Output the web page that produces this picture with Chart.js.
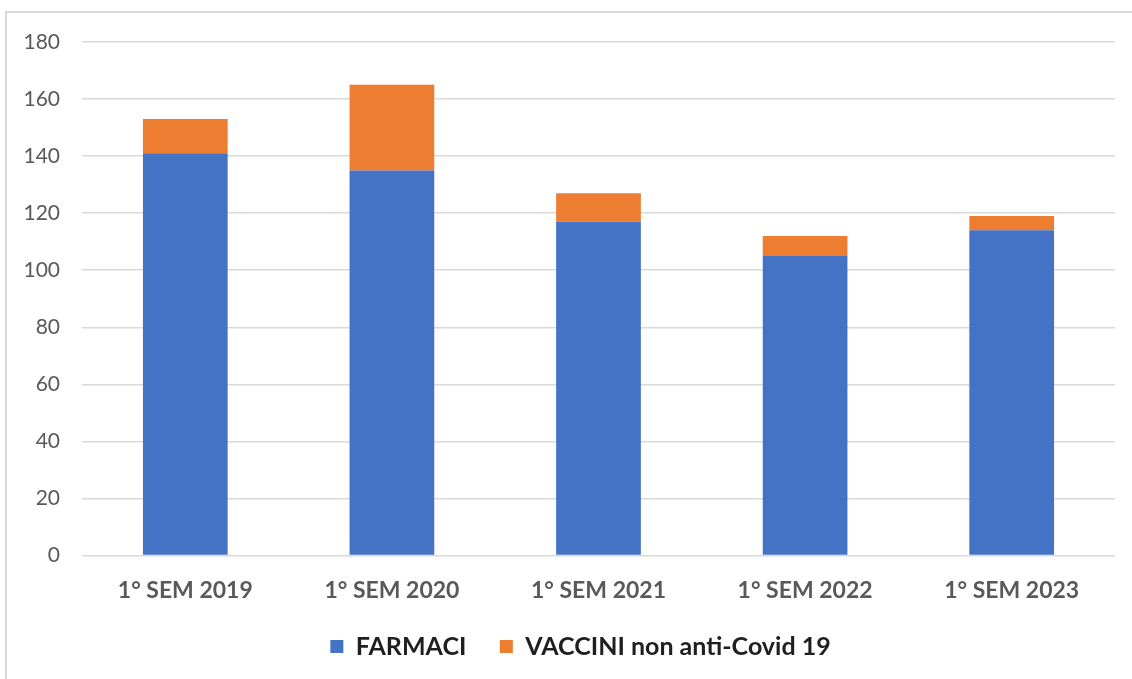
<!DOCTYPE html>
<html><head><meta charset="utf-8">
<script src="https://cdn.jsdelivr.net/npm/chart.js@4/dist/chart.umd.min.js"></script>
<style>
html,body{margin:0;padding:0;background:#fff;}
#wrap{position:absolute;left:0;top:0;width:1132px;height:679px;}
#frame{position:absolute;left:5px;top:11px;width:1140px;height:700px;border:2px solid #d9d9d9;box-sizing:border-box;}
canvas{position:absolute;left:0;top:0;}
</style></head><body>
<div id="wrap"><div id="frame"></div><canvas id="c" width="1132" height="679"></canvas></div>
<script>
const categories = ["1° SEM 2019","1° SEM 2020","1° SEM 2021","1° SEM 2022","1° SEM 2023"];
const farmaci = [141,135,117,105,114];
const vaccini = [12,30,10,7,5];
const yTicks = [0,20,40,60,80,100,120,140,160,180];

const shiftLegend = {
  id:'shiftLegend',
  afterLayout(chart){
    const lg = chart.legend;
    if(lg){ lg.left += 23; lg.right += 23; lg.top -= 25; lg.bottom -= 25; }
  }
};

new Chart(document.getElementById('c'), {
  type:'bar',
  data:{labels:categories, datasets:[
    {label:'FARMACI', data:farmaci, backgroundColor:'#4472C4', barPercentage:0.82, categoryPercentage:0.5},
    {label:'VACCINI non anti-Covid 19', data:vaccini, backgroundColor:'#ED7D31', barPercentage:0.82, categoryPercentage:0.5}
  ]},
  plugins:[shiftLegend],
  options:{
    responsive:false, animation:false,
    layout:{padding:{left:0,right:17,top:42,bottom:-15}},
    plugins:{
      tooltip:{enabled:false},
      legend:{position:'bottom', labels:{font:{family:'Lato',size:25,weight:'bold',lineHeight:1.0},color:'#1f1f1f',boxWidth:13,boxHeight:13,padding:33.5}}
    },
    scales:{
      x:{stacked:true, grid:{display:false,tickLength:0}, border:{display:false},
        ticks:{font:{family:'Lato',size:23,weight:'bold',lineHeight:1.0},color:'#595959',padding:23.5}},
      y:{stacked:true, min:0, max:180, afterBuildTicks:(s)=>{s.ticks=yTicks.map(v=>({value:v}));},
        afterFit:(s)=>{s.width=82;},
        grid:{color:'#d9d9d9',lineWidth:1.5,drawTicks:false}, border:{display:false},
        ticks:{font:{family:'Lato',size:21},color:'#595959',padding:22}}
    }
  }
});
</script></body></html>
